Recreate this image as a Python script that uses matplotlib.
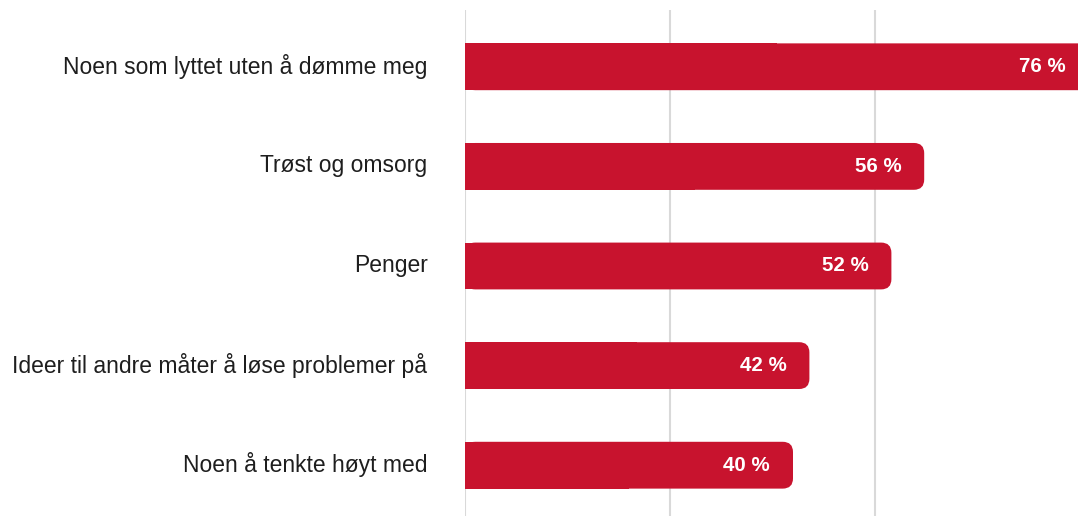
import matplotlib.pyplot as plt
import matplotlib.transforms as mtransforms
from matplotlib.patches import FancyBboxPatch

categories = ['Noen som lyttet uten å dømme meg', 'Trøst og omsorg', 'Penger',
              'Ideer til andre måter å løse problemer på', 'Noen å tenkte høyt med']
values = [76, 56, 52, 42, 40]
labels = ['76 %', '56 %', '52 %', '42 %', '40 %']

red = '#c8132e'
W, H = 1078, 516
fig = plt.figure(figsize=(W / 100, H / 100), dpi=100)
ax = fig.add_axes([465 / W, 0, 615 / W, 506 / H])
ax.set_xlim(0, 75)
ax.set_ylim(4.51, -0.57)

bh = 0.47
rx = 1.25
px_x = 615 / 75
px_y = 506 / 5.08
for i, v in enumerate(values):
    # rounded bar, left half covered by a square bar so only the right end is round
    p = FancyBboxPatch((0, i - bh / 2), v, bh,
                       boxstyle=f'round,pad=0,rounding_size={rx}',
                       mutation_aspect=px_x / px_y, fc=red, ec='none',
                       clip_on=False, zorder=3)
    ax.add_patch(p)
ax.barh(range(len(values)), [v / 2 for v in values], height=bh, color=red,
        zorder=3, clip_on=False)

for i, (v, t) in enumerate(zip(values, labels)):
    ax.text(v - 2.8, i, t, ha='right', va='center', color='white',
            fontsize=14.8, fontweight='bold', family='Liberation Sans', zorder=4,
            clip_on=False)

ax.set_yticks(range(len(categories)))
ax.set_yticklabels(categories, fontsize=16.5, family='Liberation Sans', color='#1e1e1e')
ax.tick_params(axis='y', length=0, pad=27)
up = mtransforms.ScaledTranslation(0, 3 / 100, fig.dpi_scale_trans)
for lab in ax.get_yticklabels():
    lab.set_transform(lab.get_transform() + up)
ax.set_xticks([0, 25, 50, 75])
ax.tick_params(axis='x', length=0, labelbottom=False)
ax.grid(axis='x', color='#d9d9d9', linewidth=1.5, zorder=0)
for s in ax.spines.values():
    s.set_visible(False)

fig.savefig('out.png', dpi=100)
